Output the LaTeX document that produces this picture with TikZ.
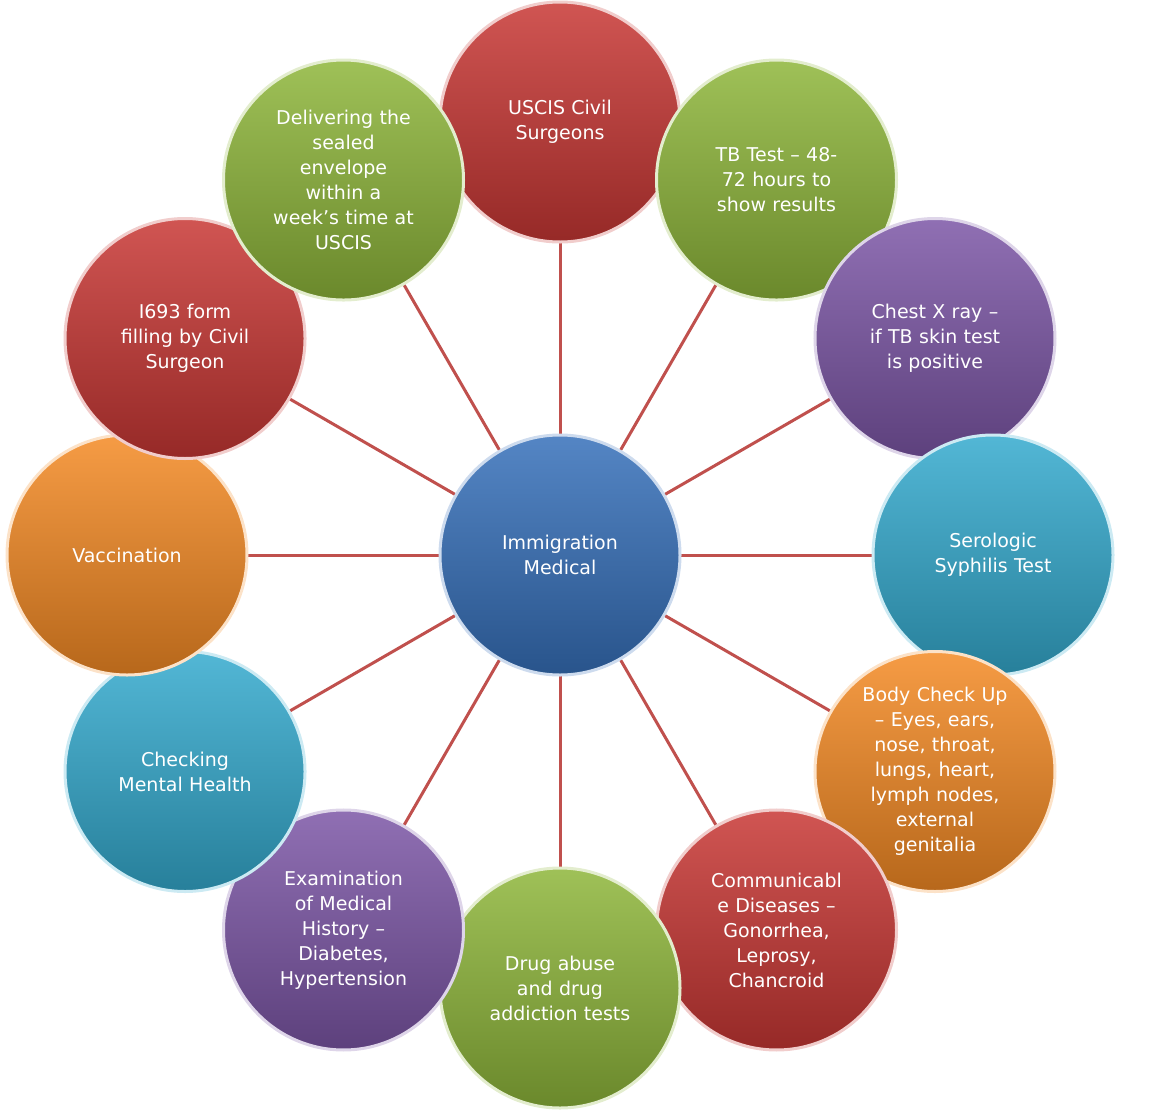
\documentclass[tikz,border=0pt]{standalone}
\usepackage{fontspec}
\setmainfont{DejaVu Sans}
\definecolor{cred}{RGB}{200,55,52}
\definecolor{cgreen}{RGB}{142,182,58}
\definecolor{cpurple}{RGB}{124,86,166}
\definecolor{ccyan}{RGB}{52,170,206}
\definecolor{corange}{RGB}{244,138,36}
\definecolor{cblue}{RGB}{54,112,186}
\definecolor{clink}{RGB}{192,80,77}
\tikzset{
  ball/.style={circle, minimum size=240pt, inner sep=0pt, text width=170pt, align=center,
    text=white, font=\fontsize{19}{25}\selectfont, line width=3pt,
    draw=#1!25!white, top color=#1!85!white, bottom color=#1!75!black},
  link/.style={draw=clink, line width=3pt}
}
\begin{document}
\begin{tikzpicture}[x=1pt,y=-1pt]
\useasboundingbox (0,0) rectangle (1152,1119);
% centre
\coordinate (c) at (560,555);
% spokes
\foreach \a in {0,30,...,330}
  \draw[link] (c) -- ++({433*cos(\a)},{-433*sin(\a)});
\node[ball=cblue] (centre) at (c) {Immigration\\Medical};
% outer circles
\foreach \a/\col/\txt [count=\i] in {
  90/cred/{USCIS Civil\\Surgeons},
  60/cgreen/{TB Test – 48-\\72 hours to\\show results},
  30/cpurple/{Chest X ray –\\if TB skin test\\is positive},
  0/ccyan/{Serologic\\Syphilis Test},
  -30/corange/{Body Check Up\\– Eyes, ears,\\nose, throat,\\lungs, heart,\\lymph nodes,\\external\\genitalia},
  -60/cred/{Communicabl\\e Diseases –\\Gonorrhea,\\Leprosy,\\Chancroid},
  -90/cgreen/{Drug abuse\\and drug\\addiction tests},
  -120/cpurple/{Examination\\of Medical\\History –\\Diabetes,\\Hypertension},
  -150/ccyan/{Checking\\Mental Health},
  180/corange/{Vaccination},
  150/cred/{I693 form\\filling by Civil\\Surgeon},
  120/cgreen/{Delivering the\\sealed\\envelope\\within a\\week’s time at\\USCIS}}
  \node[ball=\col] (step\i) at ([shift={({433*cos(\a)},{-433*sin(\a)})}]c) {\txt};
\end{tikzpicture}
\end{document}
